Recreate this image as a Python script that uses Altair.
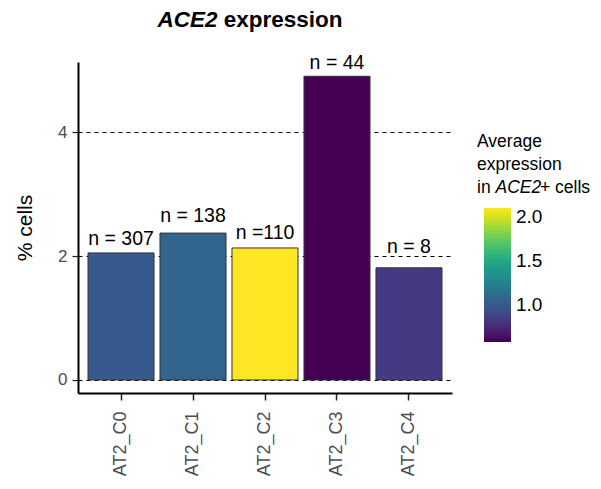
import altair as alt
import pandas as pd

clusters = ["AT2_C0", "AT2_C1", "AT2_C2", "AT2_C3", "AT2_C4"]
pct_cells = [2.05, 2.37, 2.13, 4.90, 1.81]
avg_expr = [1.00, 1.07, 2.10, 0.58, 0.83]
n_labels = ["n = 307", "n = 138", "n =110", "n = 44", "n = 8"]
label_y = [2.18, 2.55, 2.28, 5.01, 2.05]
y_ticks = [0, 2, 4]
legend_ticks = [1.0, 1.5, 2.0]

FONT = "Liberation Sans"
W, H = 374, 331

df = pd.DataFrame({"cluster": clusters, "pct": pct_cells, "expr": avg_expr,
                   "label": n_labels, "label_y": label_y})

y_scale = alt.Scale(domain=[-0.21, 5.13], nice=False, zero=False)
x_scale = alt.Scale(paddingInner=0.083, paddingOuter=0.139)
color_scale = alt.Scale(scheme="viridis", domain=[0.58, 2.10])

x_axis = alt.Axis(title=None, labelAngle=-90, labelFontSize=18, labelColor="#4d4d4d",
                  labelFont=FONT, tickSize=7, tickColor="#222222", tickWidth=1.5,
                  domainColor="black", domainWidth=2, labelPadding=11, grid=False)
y_axis = alt.Axis(title="% cells", values=y_ticks, format="d", labelFontSize=17,
                  labelColor="#4d4d4d", labelFont=FONT, labelPadding=5,
                  tickSize=6, tickColor="#222222", tickWidth=1.2,
                  domainColor="black", domainWidth=2,
                  grid=True, gridDash=[4, 4], gridColor="black", gridOpacity=1, gridWidth=1,
                  titleFont=FONT, titleFontSize=21, titleFontWeight="normal", titleColor="black",
                  titleX=-53, titleY=H / 2, titleAlign="center", titleBaseline="middle", titleAngle=270)

x_enc = alt.X("cluster:N", sort=clusters, scale=x_scale, axis=x_axis)

bars = alt.Chart(df).mark_bar(stroke="#333333", strokeWidth=1).encode(
    x=x_enc,
    y=alt.Y("pct:Q", scale=y_scale, axis=y_axis),
    color=alt.Color(
        "expr:Q", scale=color_scale,
        legend=alt.Legend(title=None, orient="none", legendX=406, legendY=146, direction="vertical",
                          gradientLength=134, gradientThickness=27, gradientStrokeWidth=0,
                          values=legend_ticks, format=".1f", labelFontSize=19, labelFont=FONT,
                          labelColor="black", labelOffset=5, padding=0),
    ),
)

labels = alt.Chart(df).mark_text(baseline="alphabetic", fontSize=19.5, font=FONT, color="black").encode(
    x=x_enc,
    y=alt.Y("label_y:Q", scale=y_scale, axis=y_axis),
    text="label:N",
)


def txt(s, x, y, size, align="left", weight="normal", style="normal"):
    return alt.Chart(pd.DataFrame({"t": [s]})).mark_text(
        align=align, baseline="alphabetic", fontSize=size, font=FONT,
        fontWeight=weight, fontStyle=style, color="black",
    ).encode(x=alt.value(x), y=alt.value(y), text="t:N")


title_a = txt("ACE2", 139.5, -35, 22.5, align="right", weight="bold", style="italic")
title_b = txt("expression", 145.8, -35, 22.5, weight="bold")

leg1 = txt("Average", 399, 85, 17.5)
leg2 = txt("expression", 399, 108, 17.5)
leg3a = txt("in", 399, 131, 17.5)
leg3b = txt("ACE2", 417.5, 131, 17.5, style="italic")
leg3c = txt("+ cells", 462, 131, 17.5)

chart = alt.layer(bars, labels, title_a, title_b, leg1, leg2, leg3a, leg3b, leg3c).properties(
    width=W, height=H,
    autosize=alt.AutoSizeParams(type="none"),
    padding={"left": 70, "top": 54, "right": 141, "bottom": 88},
    background="white",
).configure_view(stroke=None)

chart.save("out.html", embed_options={"renderer": "svg", "actions": False})
